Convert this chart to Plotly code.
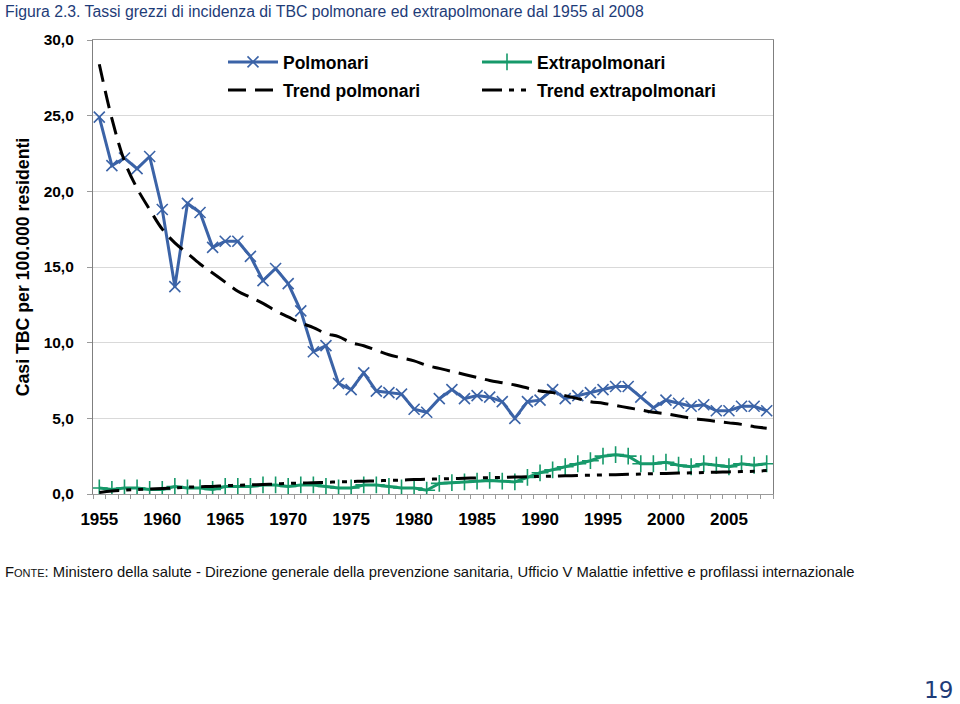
import plotly.graph_objects as go

years = list(range(1955, 2009))

polmonari = [24.9, 21.7, 22.2, 21.5, 22.3, 18.8, 13.7, 19.2, 18.6, 16.3,
             16.7, 16.7, 15.7, 14.1, 14.9, 13.9, 12.1, 9.4, 9.8, 7.3,
             6.9, 8.0, 6.8, 6.7, 6.6, 5.6, 5.4, 6.3, 6.9, 6.3,
             6.5, 6.4, 6.1, 5.0, 6.1, 6.2, 6.9, 6.3, 6.5, 6.7,
             6.9, 7.1, 7.1, 6.4, 5.7, 6.2, 6.0, 5.8, 5.9, 5.5,
             5.5, 5.8, 5.8, 5.5]

extrapolmonari = [0.4, 0.3, 0.4, 0.4, 0.3, 0.3, 0.5, 0.4, 0.4, 0.3,
                  0.5, 0.5, 0.5, 0.6, 0.6, 0.5, 0.6, 0.6, 0.5, 0.4,
                  0.4, 0.6, 0.6, 0.5, 0.4, 0.4, 0.25, 0.7, 0.75, 0.8,
                  0.85, 0.9, 0.85, 0.8, 1.1, 1.4, 1.6, 1.8, 2.0, 2.2,
                  2.5, 2.6, 2.5, 2.0, 2.0, 2.1, 1.9, 1.8, 2.0, 1.9,
                  1.8, 2.0, 1.9, 2.0]

trend_polmonari = [28.4, 24.8, 22.0, 20.2, 18.8, 17.5, 16.6, 15.9, 15.2, 14.6,
                   14.0, 13.4, 13.0, 12.6, 12.1, 11.7, 11.3, 11.0, 10.6, 10.4,
                   10.0, 9.8, 9.5, 9.2, 9.0, 8.8, 8.5, 8.3, 8.1, 7.9,
                   7.7, 7.5, 7.35, 7.2, 7.0, 6.8, 6.7, 6.5, 6.3, 6.1,
                   6.0, 5.85, 5.7, 5.55, 5.4, 5.3, 5.15, 5.0, 4.9, 4.8,
                   4.7, 4.6, 4.45, 4.35]

trend_extrapolmonari = [0.1, 0.2, 0.25, 0.3, 0.33, 0.37, 0.4, 0.45, 0.48, 0.5,
                        0.55, 0.58, 0.6, 0.63, 0.66, 0.7, 0.72, 0.75, 0.77, 0.8,
                        0.82, 0.85, 0.87, 0.9, 0.92, 0.95, 0.97, 1.0, 1.02, 1.04,
                        1.06, 1.08, 1.1, 1.12, 1.14, 1.16, 1.18, 1.2, 1.22, 1.24,
                        1.26, 1.28, 1.3, 1.32, 1.34, 1.36, 1.38, 1.4, 1.42, 1.44,
                        1.46, 1.48, 1.5, 1.55]

x_ticks = [1955, 1960, 1965, 1970, 1975, 1980, 1985, 1990, 1995, 2000, 2005]
y_ticks = [0, 5, 10, 15, 20, 25, 30]

BLUE = "#3B63A7"
GREEN = "#16996A"
FONT = "Liberation Sans, Arial"

# layout geometry (pixels)
W, H = 960, 704
L, R, T, B = 93, 773, 40, 494
PW, PH = R - L, B - T


def px(x):
    return (x - L) / PW


def py(y):
    return (B - y) / PH


fig = go.Figure()
fig.add_trace(go.Scatter(
    x=years, y=polmonari, name="Polmonari", mode="lines+markers", legend="legend",
    line=dict(color=BLUE, width=3),
    marker=dict(symbol="x-thin", size=11, line=dict(color=BLUE, width=1.6)),
))
fig.add_trace(go.Scatter(
    x=years, y=extrapolmonari, name="Extrapolmonari", mode="lines+markers", legend="legend",
    line=dict(color=GREEN, width=3),
    marker=dict(symbol="cross-thin", size=12, line=dict(color=GREEN, width=1.6)),
))
fig.add_trace(go.Scatter(
    x=years, y=trend_polmonari, name="Trend polmonari", mode="lines", legend="legend2",
    line=dict(color="black", width=3, dash="18px,9px", shape="spline"),
))
fig.add_trace(go.Scatter(
    x=years, y=trend_extrapolmonari, name="Trend extrapolmonari", mode="lines", legend="legend2",
    line=dict(color="black", width=3, dash="20px,7px,5px,7px,5px,7px", shape="spline"),
))

legend_common = dict(
    orientation="h", xanchor="left", yanchor="middle",
    entrywidth=189, entrywidthmode="pixels", itemwidth=50,
    font=dict(size=17.5, family=FONT, color="black", weight="bold"),
    bgcolor="rgba(0,0,0,0)",
)

fig.update_layout(
    width=W, height=H,
    margin=dict(l=L, r=W - R, t=T, b=H - B, autoexpand=False),
    paper_bgcolor="white", plot_bgcolor="white",
    separators=",.",
    font=dict(family=FONT, color="black"),
    showlegend=True,
    legend=dict(x=px(223), y=py(62), **legend_common),
    legend2=dict(x=px(223), y=py(90), **legend_common),
    xaxis=dict(
        range=[1954.5, 2008.5], tickvals=x_ticks, ticktext=[str(v) for v in x_ticks],
        showgrid=False, zeroline=False, automargin=False,
        showline=True, linecolor="#9a9a9a", linewidth=1.2, mirror=True,
        ticks="", ticklabelstandoff=9,
        tickfont=dict(size=17, family=FONT, weight="bold"),
        minor=dict(tick0=1954.5, dtick=1, ticks="outside", ticklen=4, tickcolor="#9a9a9a", showgrid=False),
    ),
    yaxis=dict(
        range=[0, 30], tickvals=y_ticks, tickformat=".1f",
        showgrid=True, gridcolor="#d9d9d9", gridwidth=1, zeroline=False, automargin=False,
        showline=True, linecolor="#7f7f7f", linewidth=1.2, mirror=True,
        ticks="outside", ticklen=5, tickcolor="#9a9a9a", ticklabelstandoff=10,
        tickfont=dict(size=15.5, family=FONT, weight="bold"),
        title=dict(text="Casi TBC per 100.000 residenti", standoff=9,
                   font=dict(size=17.7, family=FONT, weight="bold")),
    ),
    annotations=[
        dict(text="Figura 2.3. Tassi grezzi di incidenza di TBC polmonare ed extrapolmonare dal 1955 al 2008",
             xref="paper", yref="paper", x=px(3), y=py(12), xanchor="left", yanchor="middle",
             showarrow=False, font=dict(size=15.8, family=FONT, color="#1E3C78")),
        dict(text="F<span style='font-size:11px'>ONTE</span>: Ministero della salute - Direzione generale della prevenzione sanitaria, Ufficio V Malattie infettive e profilassi internazionale",
             xref="paper", yref="paper", x=px(3), y=py(572), xanchor="left", yanchor="middle",
             showarrow=False, font=dict(size=14.8, family=FONT, color="#111111")),
        dict(text="19", xref="paper", yref="paper", x=px(955), y=py(690),
             xanchor="right", yanchor="middle", showarrow=False,
             font=dict(size=23, family="DejaVu Sans", color="#1E3C78")),
    ],
)

# remove the browser's default 8px page margin so the figure sits at the window origin
fig.write_html("out.html", config={"displayModeBar": False},
               post_script="document.body.style.margin='0px';")
